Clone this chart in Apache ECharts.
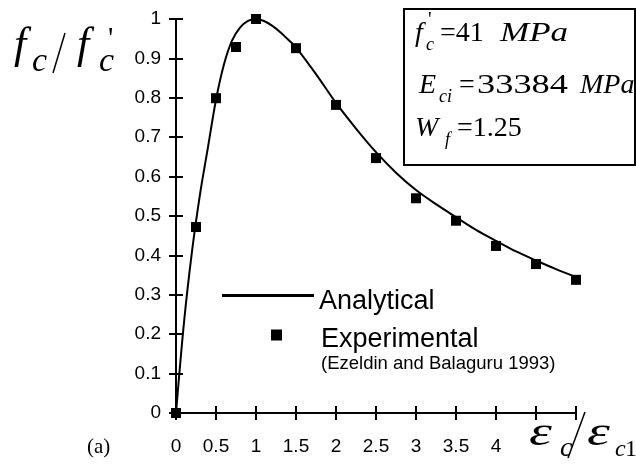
<!DOCTYPE html>
<html>
	<head>
		<meta charset="utf-8">
		<title>fc/fc' - ec/ec1</title>
		<script src="https://cdn.jsdelivr.net/npm/echarts@6/dist/echarts.min.js"></script>
		<style type="text/css">
			html, body {
				margin: 0;
				padding: 0;
				background: #fff;
			}

			#main {
				width: 636px;
				height: 466px;
			}
		</style>
	</head>

	<body>
		<div id="main"></div>

		<script>
			// 解析曲线 (Analytical)
			var anaX = [0, 0.1, 0.2, 0.3, 0.4, 0.5, 0.6, 0.7, 0.8, 0.9, 1.0, 1.1, 1.2, 1.3, 1.4, 1.5, 1.75, 2.0, 2.25, 2.5, 2.75, 3.0, 3.25, 3.5, 3.75, 4.0, 4.25, 4.5, 4.75, 5.0];
			var anaY = [0, 0.23, 0.41, 0.555, 0.675, 0.795, 0.885, 0.945, 0.978, 0.995, 1.0, 0.995, 0.983, 0.967, 0.948, 0.928, 0.86, 0.787, 0.722, 0.662, 0.61, 0.566, 0.53, 0.497, 0.465, 0.437, 0.41, 0.387, 0.365, 0.345];
			// 试验点 (Experimental)
			var expX = [0, 0.25, 0.5, 0.75, 1.0, 1.5, 2.0, 2.5, 3.0, 3.5, 4.0, 4.5, 5.0];
			var expY = [0, 0.472, 0.799, 0.929, 1.0, 0.926, 0.782, 0.647, 0.545, 0.488, 0.424, 0.378, 0.338];
			// 刻度
			var xTicks = ['0', '0.5', '1', '1.5', '2', '2.5', '3', '3.5', '4'];
			var yTicks = ['0', '0.1', '0.2', '0.3', '0.4', '0.5', '0.6', '0.7', '0.8', '0.9', '1'];
			var seriesNames = ['Analytical', 'Experimental'];
			var citation = '(Ezeldin and Balaguru 1993)';

			var SANS = 'Liberation Sans, Arial, sans-serif';
			var SERIF = 'Liberation Serif, Times New Roman, serif';

			var anaData = [];
			for (var i = 0; i < anaX.length; i++) {
				anaData.push([anaX[i], anaY[i]]);
			}
			var expData = [];
			for (var j = 0; j < expX.length; j++) {
				expData.push([expX[j], expY[j]]);
			}

			function txt(x, y, s, size, italic, opt) {
				var o = {
					type: 'text',
					x: x,
					y: y,
					z: 100,
					style: {
						text: s,
						fontSize: size,
						fontFamily: SERIF,
						fontStyle: italic ? 'italic' : 'normal',
						fill: '#000',
						align: 'left',
						verticalAlign: 'middle',
						textAlign: 'left',
						textVerticalAlign: 'middle'
					}
				};
				if (opt) {
					for (var k in opt) o[k] = opt[k];
				}
				return o;
			}

			var gridPos = { left: 176, top: 19, width: 400, height: 394 };
			var axisBlack = { color: '#000', width: 2 };

			var chart = echarts.init(document.getElementById('main'));
			chart.setOption({
				animation: false,
				grid: [
					{ left: gridPos.left, top: gridPos.top, width: gridPos.width, height: gridPos.height },
					{ left: gridPos.left, top: gridPos.top, width: gridPos.width, height: gridPos.height }
				],
				xAxis: [{
						type: 'value',
						gridIndex: 0,
						min: 0,
						max: 5,
						interval: 0.5,
						axisLine: { lineStyle: axisBlack },
						axisTick: { length: 7, lineStyle: axisBlack },
						splitLine: { show: false },
						axisLabel: {
							color: '#000',
							fontSize: 19,
							fontFamily: SANS,
							margin: 24,
							formatter: function(v) {
								var idx = Math.round(v * 2);
								return idx < xTicks.length ? xTicks[idx] : '';
							}
						}
					},
					{
						// 内侧刻度
						type: 'value',
						gridIndex: 1,
						min: 0,
						max: 5,
						interval: 0.5,
						axisLine: { show: false },
						axisTick: { show: true, inside: true, length: 7, lineStyle: axisBlack },
						splitLine: { show: false },
						axisLabel: { show: false }
					}
				],
				yAxis: [{
						type: 'value',
						gridIndex: 0,
						min: 0,
						max: 1,
						interval: 0.1,
						axisLine: { lineStyle: axisBlack },
						axisTick: { length: 7, lineStyle: axisBlack },
						splitLine: { show: false },
						axisLabel: {
							color: '#000',
							fontSize: 19,
							fontFamily: SANS,
							margin: 15,
							formatter: function(v) {
								return yTicks[Math.round(v * 10)];
							}
						}
					},
					{
						type: 'value',
						gridIndex: 1,
						min: 0,
						max: 1,
						interval: 0.1,
						axisLine: { show: false },
						axisTick: { show: true, inside: true, length: 7, lineStyle: axisBlack },
						splitLine: { show: false },
						axisLabel: { show: false }
					}
				],
				legend: [{
						// 线条图例略高于文字
						data: [{ name: seriesNames[0], icon: 'path://M0 0H92V3H0Z M0 16H0.01V16.01H0Z' }],
						left: 222,
						top: 287,
						padding: 0,
						itemWidth: 92,
						itemHeight: 19,
						itemStyle: { color: '#000' },
						textStyle: { color: '#000', fontSize: 27, fontFamily: SANS, lineHeight: 30 }
					},
					{
						data: [{ name: seriesNames[1], icon: 'path://M0 0H11V11H0Z M0 21H0.01V21.01H0Z' }],
						left: 271,
						top: 325,
						padding: 0,
						itemWidth: 11,
						itemHeight: 21,
						itemStyle: { color: '#000', opacity: 1 },
						textStyle: { color: '#000', fontSize: 27, fontFamily: SANS, lineHeight: 30, padding: [0, 0, 0, 34] }
					}
				],
				series: [{
						name: seriesNames[0],
						type: 'line',
						xAxisIndex: 0,
						yAxisIndex: 0,
						data: anaData,
						symbol: 'none',
						smooth: 0.3,
						lineStyle: { color: '#000', width: 2 },
						itemStyle: { color: '#000' }
					},
					{
						name: seriesNames[1],
						type: 'scatter',
						xAxisIndex: 0,
						yAxisIndex: 0,
						data: expData,
						symbol: 'rect',
						symbolSize: 10,
						itemStyle: { color: '#000', opacity: 1 },
						z: 5
					}
				],
				graphic: [
					// 引用
					{
						type: 'text',
						x: 321,
						y: 364,
						style: {
							text: citation,
							fontSize: 18.5,
							fontFamily: SANS,
							fill: '#000',
							align: 'left',
							verticalAlign: 'middle',
							textAlign: 'left',
							textVerticalAlign: 'middle'
						}
					},
					// 参数框
					{
						type: 'rect',
						z: 90,
						shape: { x: 404, y: 9, width: 231, height: 156 },
						style: { fill: '#fff', stroke: '#000', lineWidth: 2 }
					},
					txt(415, 33.5, 'f', 28, true),
					txt(426, 45, 'c', 18, true),
					txt(428, 21, "'", 20, false),
					txt(440, 33.5, '=41', 28, false),
					txt(500, 33.5, 'MPa', 28, true, { scaleX: 1.25 }),

					txt(419, 85.5, 'E', 28, true),
					txt(439, 97, 'ci', 18, true),
					txt(459, 85.5, '=', 28, false),
					txt(477, 85.5, '33384', 28, false, { scaleX: 1.3 }),
					txt(580, 85.5, 'MPa', 28, true),

					txt(415, 128.5, 'W', 28, true),
					txt(445, 140, 'f', 18, true),
					txt(457, 128.5, '=1.25', 28, false),

					// y 轴标题
					txt(14, 46, 'f', 44, true),
					txt(32, 62, 'c', 34, true),
					{
						type: 'line',
						z: 100,
						shape: { x1: 65, y1: 33, x2: 53, y2: 73 },
						style: { stroke: '#000', lineWidth: 1.5 }
					},
					txt(77, 46, 'f', 44, true),
					txt(99, 62, 'c', 34, true),
					txt(108, 39, "'", 30, false),

					// x 轴标题
					txt(529, 434, '\u03b5', 40, true, { scaleX: 1.45 }),
					txt(560, 449, 'c', 28, true),
					{
						type: 'line',
						z: 100,
						shape: { x1: 585, y1: 412, x2: 568, y2: 458 },
						style: { stroke: '#000', lineWidth: 1.5 }
					},
					txt(587, 434, '\u03b5', 40, true, { scaleX: 1.45 }),
					txt(615, 450, 'c', 24, true),
					txt(625, 450, '1', 24, false),

					txt(87, 447, '(a)', 21, false)
				]
			});
		</script>
	</body>
</html>
